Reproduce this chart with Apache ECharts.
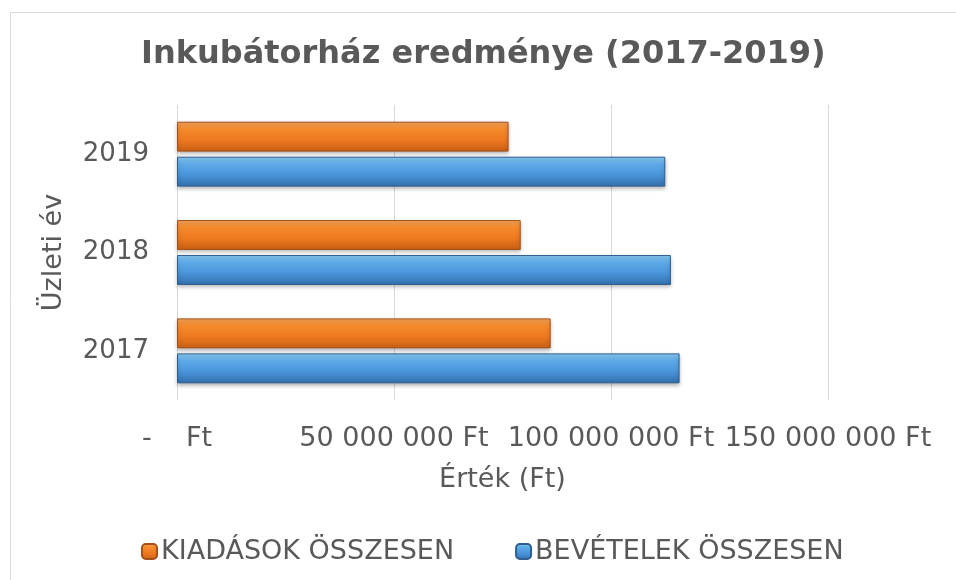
<!DOCTYPE html>
<html>
<head>
<meta charset="utf-8">
<title>Inkubátorház eredménye</title>
<script src="https://cdn.jsdelivr.net/npm/echarts@6/dist/echarts.min.js"></script>
<style>
  html, body { margin: 0; padding: 0; background: #fff; }
  #chart { width: 956px; height: 580px; }
</style>
</head>
<body>
<div id="chart"></div>
<script>
// adatok
const years = ['2017', '2018', '2019'];
const kiadasok = [86100000, 79200000, 76400000];
const bevetelek = [115800000, 113800000, 112500000];
const seriesNames = ['KIADÁSOK ÖSSZESEN', 'BEVÉTELEK ÖSSZESEN'];

const font = 'DejaVu Sans, Verdana, sans-serif';
const grey = '#595959';

function ftLabel(v) {
  if (v === 0) return '-    Ft';
  return String(v).replace(/\B(?=(\d{3})+(?!\d))/g, ' ') + ' Ft';
}

function grad(stops) {
  return new echarts.graphic.LinearGradient(0, 0, 0, 1,
    stops.map(c => ({ offset: c[0], color: c[1] })));
}

const orangeFill = grad([[0, '#f7a659'], [0.25, '#f58a2c'], [0.6, '#ee7a20'], [1, '#c85f14']]);
const blueFill = grad([[0, '#8bcdf6'], [0.25, '#5eaae8'], [0.6, '#4a95da'], [1, '#336fae']]);

const chart = echarts.init(document.getElementById('chart'));
chart.setOption({
  animation: false,
  textStyle: { fontFamily: font },
  title: {
    text: 'Inkubátorház eredménye (2017-2019)',
    left: 141,
    top: 39,
    padding: 0,
    textStyle: { fontFamily: font, fontSize: 32, fontWeight: 'bold', color: grey }
  },
  graphic: [{
    type: 'rect',
    shape: { x: 10.5, y: 12.5, width: 1000, height: 1000 },
    style: { fill: 'none', stroke: '#d9d9d9', lineWidth: 1 },
    silent: true
  }],
  legend: {
    data: seriesNames,
    left: 141,
    top: 538,
    padding: 0,
    itemWidth: 15,
    itemHeight: 15,
    itemGap: 61,
    textStyle: { fontFamily: font, fontSize: 27, color: grey, padding: [0, 0, 0, -1] }
  },
  grid: { left: 177, right: 128, top: 105, bottom: 180 },
  xAxis: {
    type: 'value',
    min: 0,
    max: 150000000,
    interval: 50000000,
    name: 'Érték (Ft)',
    nameLocation: 'middle',
    nameGap: 66,
    nameTextStyle: { fontFamily: font, fontSize: 27, color: grey },
    axisLine: { show: false },
    axisTick: { show: false },
    axisLabel: {
      formatter: ftLabel,
      margin: 25,
      fontSize: 27,
      color: grey,
      fontFamily: font,
      hideOverlap: false
    },
    splitLine: { show: true, lineStyle: { color: '#d9d9d9', width: 1 } }
  },
  yAxis: {
    type: 'category',
    data: years,
    name: 'Üzleti év',
    nameLocation: 'middle',
    nameGap: 110,
    nameRotate: 90,
    nameTextStyle: { fontFamily: font, fontSize: 27, color: grey },
    axisLine: { show: false },
    axisTick: { show: false },
    axisLabel: { margin: 28, fontSize: 26, color: grey, fontFamily: font }
  },
  series: [
    {
      name: seriesNames[0],
      type: 'bar',
      data: kiadasok,
      barGap: '17%',
      barCategoryGap: '34%',
      itemStyle: {
        color: orangeFill,
        borderColor: '#a4501a',
        borderWidth: 1,
        shadowColor: 'rgba(0,0,0,0.3)',
        shadowBlur: 4,
        shadowOffsetY: 2
      }
    },
    {
      name: seriesNames[1],
      type: 'bar',
      data: bevetelek,
      barGap: '17%',
      barCategoryGap: '34%',
      itemStyle: {
        color: blueFill,
        borderColor: '#2d5e8e',
        borderWidth: 1,
        shadowColor: 'rgba(0,0,0,0.3)',
        shadowBlur: 4,
        shadowOffsetY: 2
      }
    }
  ]
});
</script>
</body>
</html>
